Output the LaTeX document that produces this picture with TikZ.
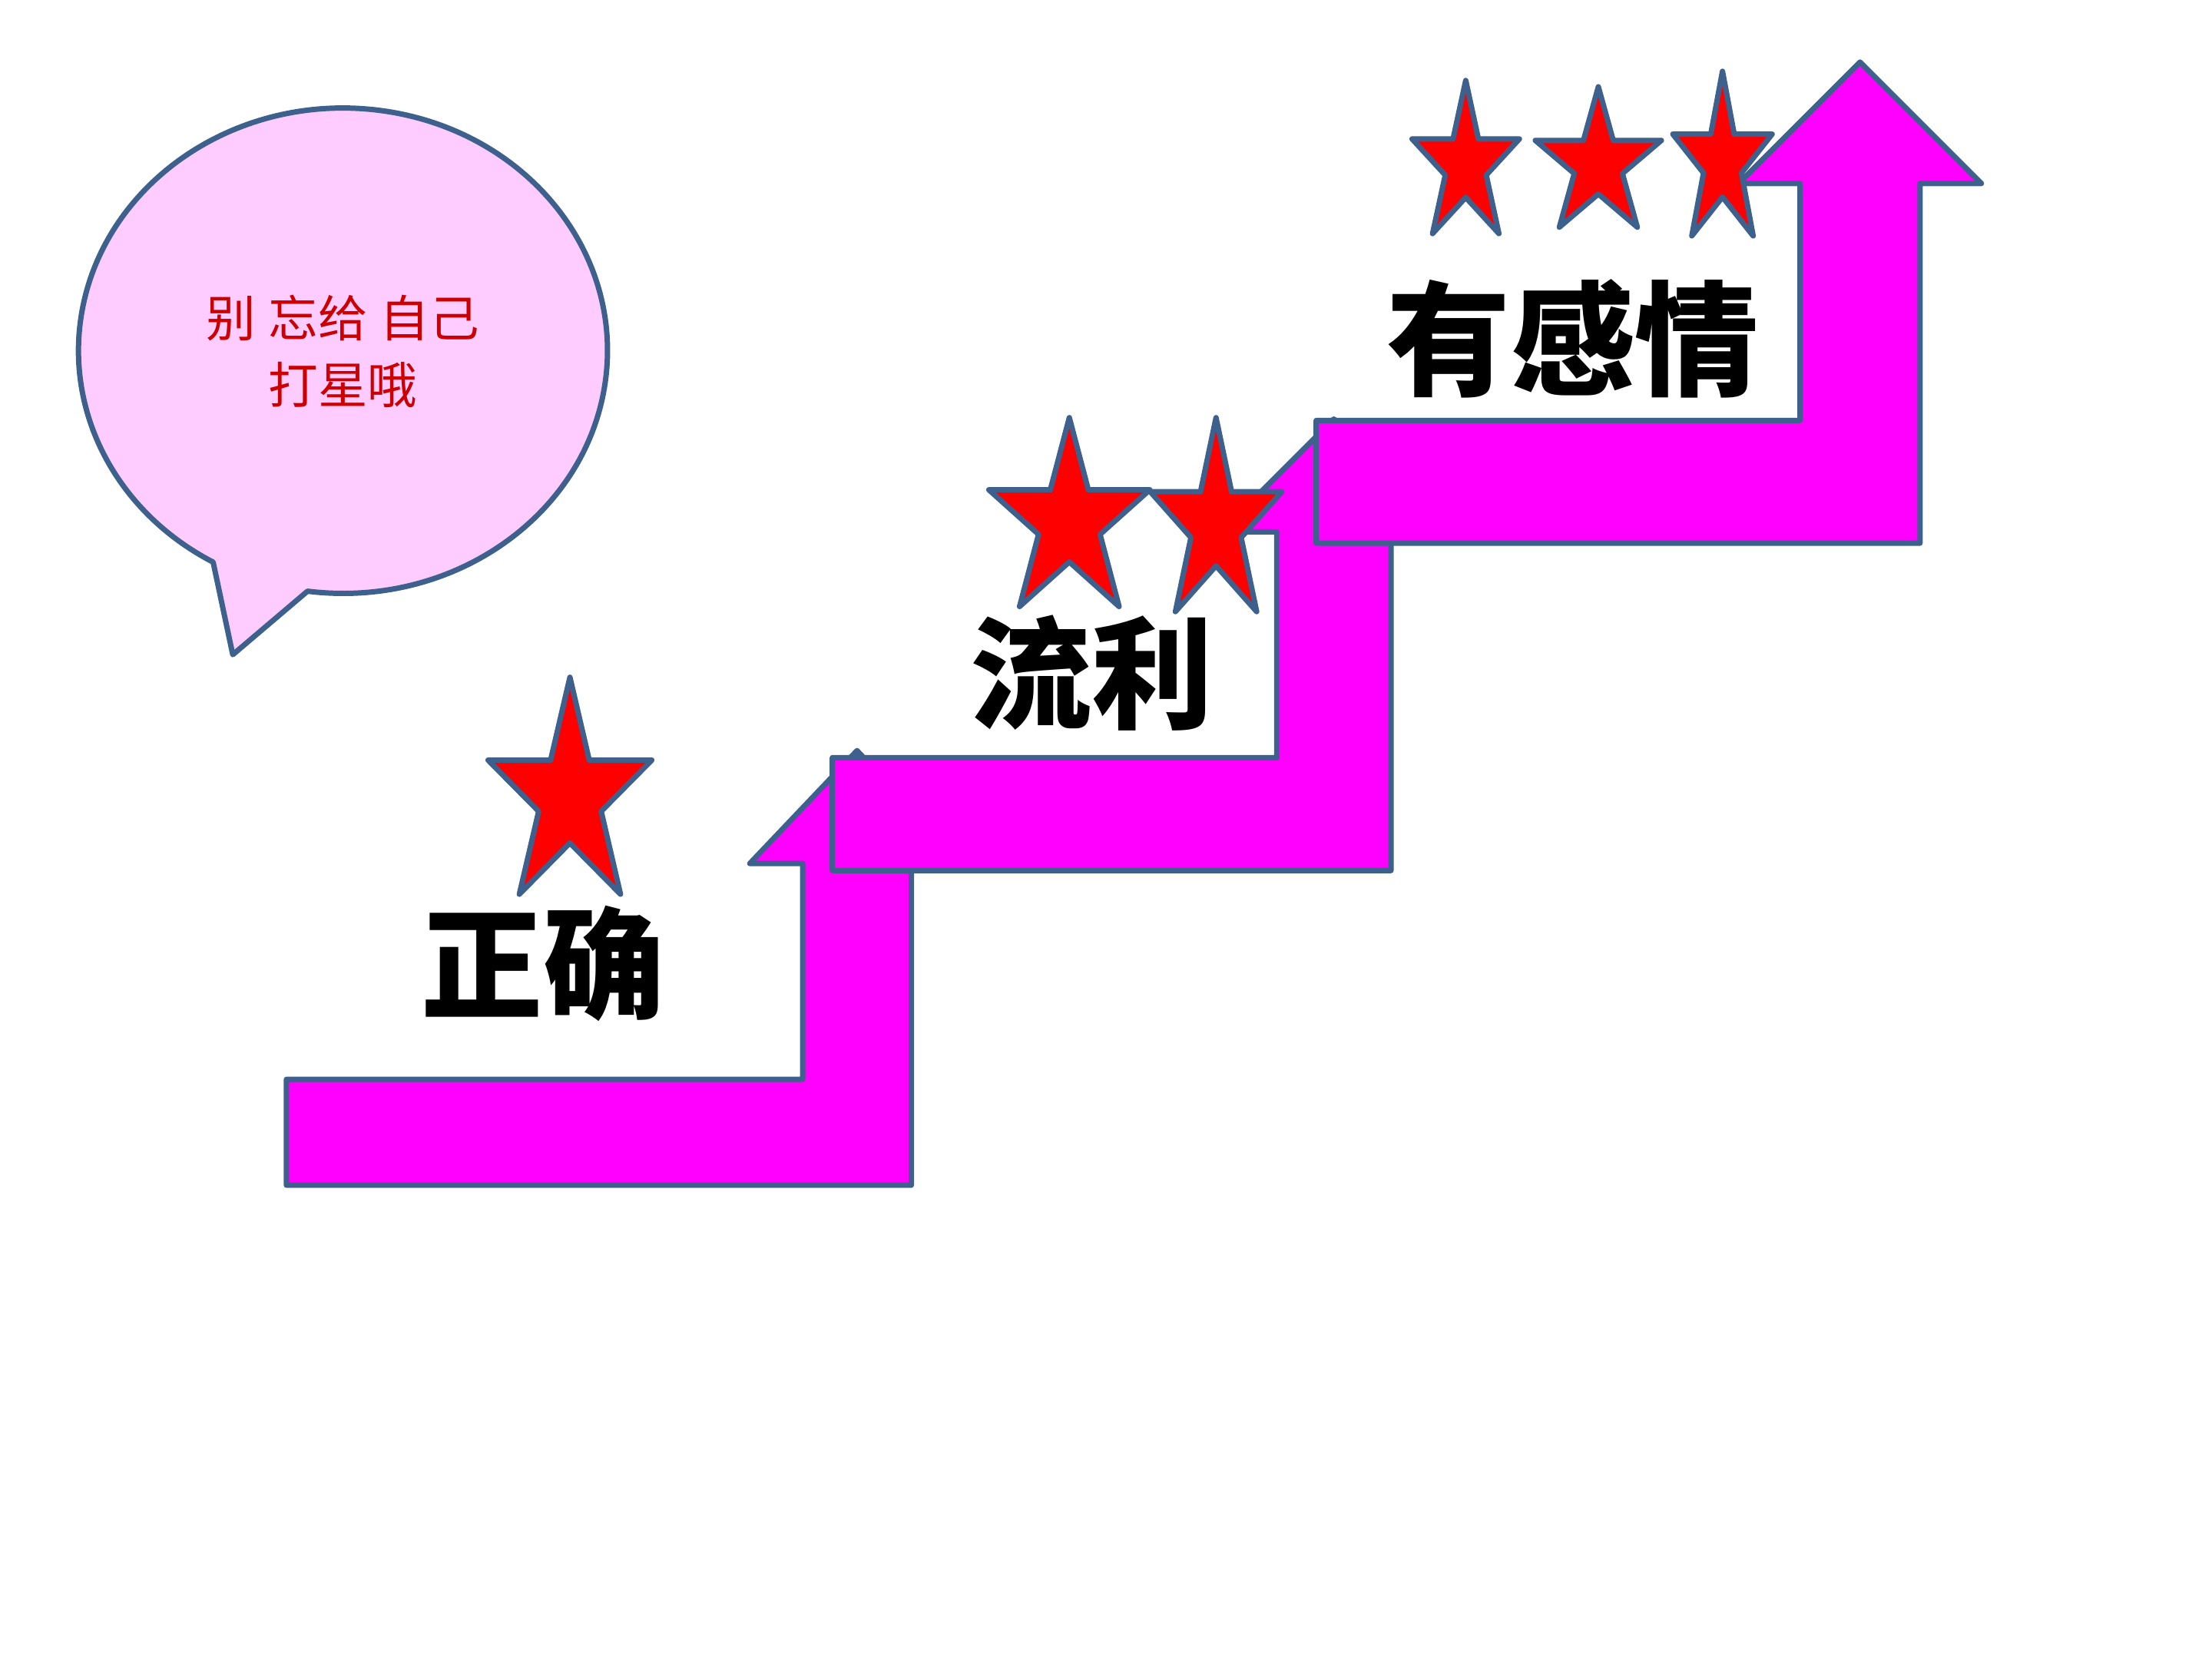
\documentclass[tikz,border=0pt]{standalone}
\usepackage{fontspec}
\newfontfamily\cjk{Noto Sans CJK SC}
\definecolor{edgeblue}{RGB}{62,96,140}
\definecolor{stairpink}{RGB}{255,0,255}
\definecolor{bubblepink}{RGB}{255,204,255}
\definecolor{bubblered}{RGB}{204,0,0}

\begin{document}
\begin{tikzpicture}[x=0.1mm, y=-0.1mm, line join=round,
  stairarrow/.style={draw=edgeblue, fill=stairpink, line width=0.38mm},
  starsty/.style={draw=edgeblue, fill=red, line width=0.38mm},
  lbl/.style={font=\cjk\bfseries\fontsize{24.5pt}{28pt}\selectfont, inner sep=0pt},
  bubble/.style={draw=edgeblue, fill=bubblepink, line width=0.38mm}]
\fill[white] (0,0) rectangle (1568,1176);
\useasboundingbox (0,0) rectangle (1568,1176);
\draw[bubble] (165,464) -- (218,419) arc[start angle=97.7, end angle=-240.6, x radius=187.5, y radius=172] -- cycle;
\node[align=center, text=bubblered, font=\cjk\fontsize{10pt}{13.6pt}\selectfont] (tip) at (243,249) {别\hspace{0.25em}忘给\hspace{0.25em}自己\\打星哦};
\foreach \xa/\xi/\xo/\yt/\yb/\ys/\yp/\hw in {203/569/646/765/840/612/532/76, 590/905/986/537/617/377/297/80, 933/1276/1361/298/385/130/44/86} {
  \draw[stairarrow] (\xa,\yt) -- (\xi,\yt) -- (\xi,\ys) -- ({(\xi+\xo)/2-\hw},\ys) -- ({(\xi+\xo)/2},\yp)
    -- ({(\xi+\xo)/2+\hw},\ys) -- (\xo,\ys) -- (\xo,\yb) -- (\xa,\yb) -- cycle;
}
\foreach \cx/\cy/\rx/\ry in {404/565/61/85, 758/370/60/74, 862/372/49/76, 1039/117/40/60, 1133/116.5/47/55, 1221/115/37/64.5} {
  \draw[starsty] plot[variable=\k, samples at={0,...,9}]
    ({\cx+\rx*(1-0.618*mod(\k,2))*cos(-90+36*\k)}, {\cy+\ry*(1-0.618*mod(\k,2))*sin(-90+36*\k)}) -- cycle;
}
\node[lbl] (correct) at (385,683) {正确};
\node[lbl] (fluent) at (774,477) {流利};
\node[lbl, font=\cjk\bfseries\fontsize{25pt}{28pt}\selectfont] (feeling) at (1115,240) {有感情};
\end{tikzpicture}
\end{document}
